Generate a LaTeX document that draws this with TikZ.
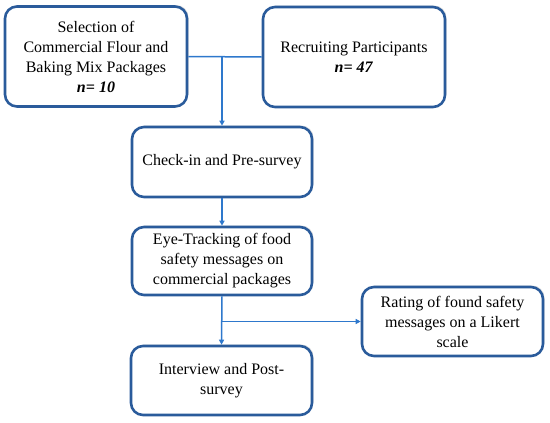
\documentclass[tikz,border=0pt]{standalone}
\usepackage{fontspec}
\setmainfont{Liberation Serif}
\usetikzlibrary{shadows,arrows.meta}
\definecolor{boxblue}{HTML}{2A5B9B}
\definecolor{linkblue}{HTML}{2E78CC}
\tikzset{
  stepbox/.style={draw=boxblue, line width=2.6pt, rounded corners=12pt, fill=white,
    align=center, font=\fontsize{16}{20}\selectfont, inner sep=2pt,
    drop shadow={opacity=0.25, shadow xshift=1.5pt, shadow yshift=1.5pt}},
  link/.style={draw=linkblue, line width=1.5pt},
  arr/.style={link, -{Triangle[length=5pt,width=5pt]}}
}
\begin{document}
\begin{tikzpicture}[x=1pt,y=-1pt]
\useasboundingbox (0,0) rectangle (550,423);
\node[stepbox, minimum width=182pt, minimum height=100pt] (b1) at (96,56.5)
  {Selection of\\Commercial Flour and\\Baking Mix Packages\\\textbf{\textit{n= 10}}};
\node[stepbox, minimum width=182pt, minimum height=100pt] (b2) at (354,57)
  {Recruiting Participants\\\textbf{\textit{n= 47}}};
\node[stepbox, minimum width=180pt, minimum height=70pt] (b3) at (222,162)
  {Check-in and Pre-survey};
\node[stepbox, minimum width=180pt, minimum height=68pt] (b4) at (222,261)
  {Eye-Tracking of food\\safety messages on\\commercial packages};
\node[stepbox, minimum width=181pt, minimum height=69pt] (b5) at (221.5,380.5)
  {Interview and Post-\\survey};
\node[stepbox, minimum width=181pt, minimum height=69pt] (b6) at (452.5,321.5)
  {Rating of found safety\\messages on a Likert\\scale};
\coordinate (j1) at (b3.north |- b1.east);
\coordinate (j2) at (b4.south |- b6.west);
\draw[link] (b1.east) -- (b2.west);
\draw[arr] (j1) -- (b3.north);
\draw[arr] (b3.south) -- (b4.north);
\draw[arr] (b4.south) -- (b5.north);
\draw[arr] (j2) -- (b6.west);
\end{tikzpicture}
\end{document}
